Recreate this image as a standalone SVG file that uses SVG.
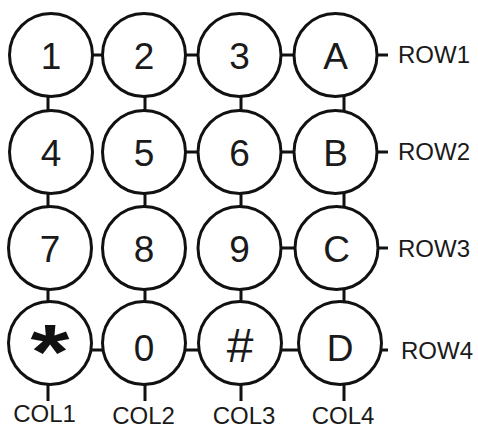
<svg xmlns="http://www.w3.org/2000/svg" width="478" height="430" viewBox="0 0 478 430">
<style>
.k{fill:#fff;stroke:#111;stroke-width:3}
.c{stroke:#111;stroke-width:3;fill:none}
.t{font-family:"Liberation Sans",Arial,sans-serif;font-size:37px;fill:#1a1a1a;text-anchor:middle}
.l{font-family:"Liberation Sans",Arial,sans-serif;font-size:24px;fill:#1a1a1a}
.lc{text-anchor:middle}
.s{font-family:"Liberation Sans",Arial,sans-serif;font-weight:bold;font-size:100px;fill:#111;text-anchor:middle}
</style>
<rect width="478" height="430" fill="#fff"/>
<g id="connectors" class="c">
<path d="M50 55H388M144 152H388M239 248H388M50 350H388"/>
<path d="M48 55V401M145 55V401M241 55V401M344 55V401"/>
</g>
<g id="key-1"><circle class="k" cx="51" cy="55" r="41.5"/><text class="t" x="51" y="69">1</text></g>
<g id="key-2"><circle class="k" cx="144" cy="55" r="41.5"/><text class="t" x="144" y="69">2</text></g>
<g id="key-3"><circle class="k" cx="239.5" cy="55" r="41.5"/><text class="t" x="239.5" y="69">3</text></g>
<g id="key-A"><circle class="k" cx="335.5" cy="55" r="41.5"/><text class="t" x="335.5" y="69">A</text></g>
<g id="key-4"><circle class="k" cx="51" cy="152" r="41.5"/><text class="t" x="51" y="166">4</text></g>
<g id="key-5"><circle class="k" cx="144" cy="152" r="41.5"/><text class="t" x="144" y="166">5</text></g>
<g id="key-6"><circle class="k" cx="239.5" cy="152" r="41.5"/><text class="t" x="239.5" y="166">6</text></g>
<g id="key-B"><circle class="k" cx="335.5" cy="152" r="41.5"/><text class="t" x="335.5" y="166">B</text></g>
<g id="key-7"><circle class="k" cx="50" cy="248" r="41.5"/><text class="t" x="50" y="262">7</text></g>
<g id="key-8"><circle class="k" cx="144" cy="248" r="41.5"/><text class="t" x="144" y="262">8</text></g>
<g id="key-9"><circle class="k" cx="239.5" cy="248" r="41.5"/><text class="t" x="239.5" y="262">9</text></g>
<g id="key-C"><circle class="k" cx="336.5" cy="248" r="41.5"/><text class="t" x="336.5" y="262">C</text></g>
<g id="key-star"><circle class="k" cx="50" cy="343" r="41.5"/><text class="s" transform="translate(50 379) scale(1 0.77)">*</text></g>
<g id="key-0"><circle class="k" cx="144" cy="343" r="41.5"/><text class="t" x="144" y="361">0</text></g>
<g id="key-hash"><circle class="k" cx="240" cy="343" r="41.5"/><text class="t" x="240" y="362" style="font-size:48px">#</text></g>
<g id="key-D"><circle class="k" cx="340" cy="343" r="41.5"/><text class="t" x="340" y="361">D</text></g>
<g id="labels">
<text class="l" x="398" y="63">ROW1</text>
<text class="l" x="398" y="160">ROW2</text>
<text class="l" x="398" y="257">ROW3</text>
<text class="l" x="401" y="359">ROW4</text>
<text class="l lc" x="44.5" y="422">COL1</text>
<text class="l lc" x="143.5" y="424">COL2</text>
<text class="l lc" x="244" y="424">COL3</text>
<text class="l lc" x="343" y="424">COL4</text>
</g>
</svg>
